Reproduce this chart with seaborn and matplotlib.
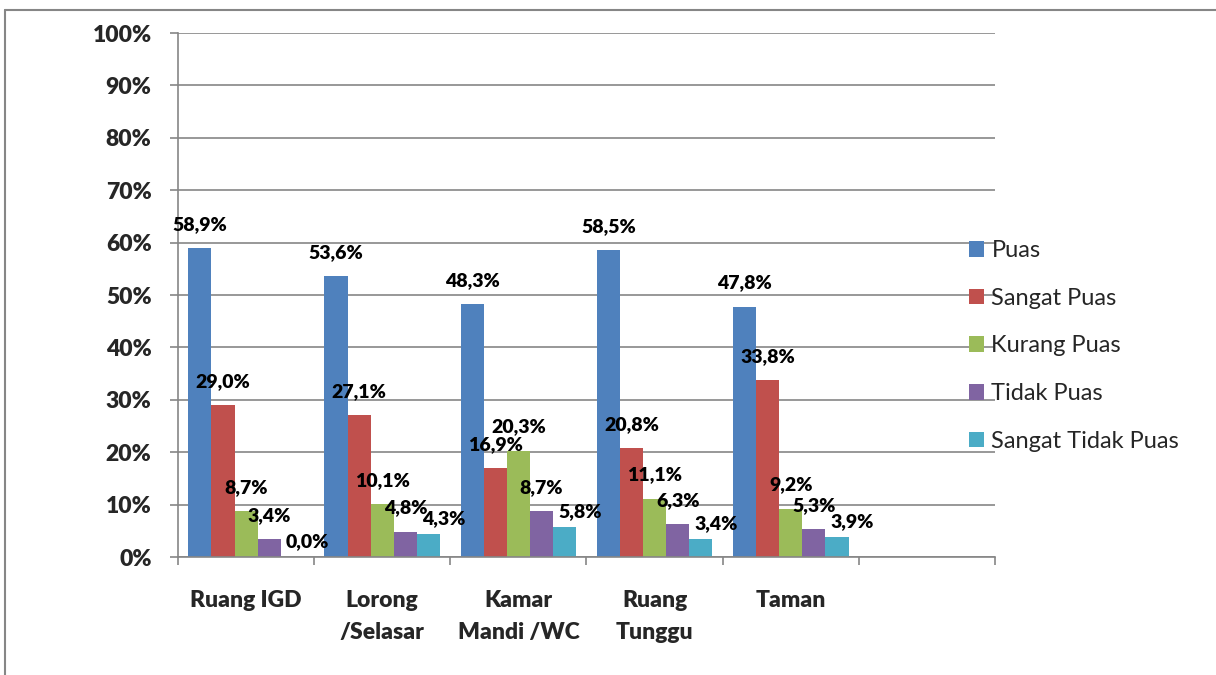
import numpy as np
import pandas as pd
import matplotlib.pyplot as plt
import matplotlib.ticker as mticker
from matplotlib.lines import Line2D
import seaborn as sns

# data (percent)
categories = ["Ruang IGD", "Lorong\n/Selasar", "Kamar\nMandi /WC", "Ruang\nTunggu", "Taman"]
levels = ["Puas", "Sangat Puas", "Kurang Puas", "Tidak Puas", "Sangat Tidak Puas"]
puas = [58.9, 53.6, 48.3, 58.5, 47.8]
sangat_puas = [29.0, 27.1, 16.9, 20.8, 33.8]
kurang_puas = [8.7, 10.1, 20.3, 11.1, 9.2]
tidak_puas = [3.4, 4.8, 8.7, 6.3, 5.3]
sangat_tidak_puas = [0.0, 4.3, 5.8, 3.4, 3.9]
colors = ["#4F81BD", "#C0504D", "#9BBB59", "#8064A2", "#4BACC6"]

series = [puas, sangat_puas, kurang_puas, tidak_puas, sangat_tidak_puas]
rows = []
for lvl, vals in zip(levels, series):
    for cat, v in zip(categories, vals):
        rows.append({"kategori": cat, "tingkat": lvl, "nilai": v})
df = pd.DataFrame(rows)

sns.set_theme(style="white")
plt.rcParams["font.family"] = ["Lato", "DejaVu Sans"]

grid_col = "#868686"
fig = plt.figure(figsize=(12.16, 6.75), dpi=100)
ax = fig.add_axes([178 / 1216, 1 - 557 / 675, (995 - 178) / 1216, (557 - 33) / 675])

# an empty sixth slot, as in the original sheet
order = categories + [" "]
sns.barplot(data=df, x="kategori", y="nilai", hue="tingkat", order=order,
            hue_order=levels, palette=colors, width=0.85, saturation=1,
            edgecolor="none", linewidth=0, ax=ax, legend=True)

fmt = lambda v: f"{v:.1f}%".replace(".", ",")
for i, cont in enumerate(ax.containers):
    anns = ax.bar_label(cont, fmt=fmt, padding=11, fontsize=14,
                        fontweight="heavy", color="black")
    if i == len(ax.containers) - 1:
        # Excel pushed the last series' labels a bit right and lower
        for a in anns:
            a.xyann = (11, 5)

ax.set_ylim(0, 100)
ax.set_xlim(-0.5, len(order) - 0.5)
ax.yaxis.set_major_locator(mticker.MultipleLocator(10))
ax.yaxis.set_major_formatter(mticker.FuncFormatter(lambda v, p: f"{v:.0f}%"))
ax.grid(axis="y", color=grid_col, lw=1.2)
ax.set_axisbelow(True)
ax.set_xlabel("")
ax.set_ylabel("")

for s in ["top", "right"]:
    ax.spines[s].set_visible(False)
for s in ["left", "bottom"]:
    ax.spines[s].set_color(grid_col)
    ax.spines[s].set_linewidth(1.2)

ax.tick_params(axis="y", length=6, width=1.2, color=grid_col, pad=13,
               labelsize=16.5, left=True)
for lbl in ax.get_yticklabels():
    lbl.set_fontweight("heavy")

ax.set_xticks(range(len(order)))
ax.set_xticklabels(order, fontsize=16.5, fontweight="heavy", linespacing=1.65,
                   va="top")
ax.tick_params(axis="x", length=0, pad=24)
ax.set_xticks(np.arange(-0.5, len(order)), minor=True)
ax.tick_params(axis="x", which="minor", length=6, width=1.2, color=grid_col,
               bottom=True)

ax.legend(loc="upper left", bbox_to_anchor=(969 / 1216, 1 - 240 / 675),
          bbox_transform=fig.transFigure, frameon=False, fontsize=17,
          handlelength=0.65, handleheight=0.65, handletextpad=0.3,
          labelspacing=1.13, borderpad=0, borderaxespad=0)

# outer chart frame (only left and top edges visible in the crop)
fig.add_artist(Line2D([5 / 1216, 5 / 1216], [0, 1 - 10 / 675],
                      transform=fig.transFigure, color=grid_col, lw=1.5))
fig.add_artist(Line2D([5 / 1216, 1], [1 - 10 / 675, 1 - 10 / 675],
                      transform=fig.transFigure, color=grid_col, lw=1.5))

fig.savefig("out.png", dpi=100)
